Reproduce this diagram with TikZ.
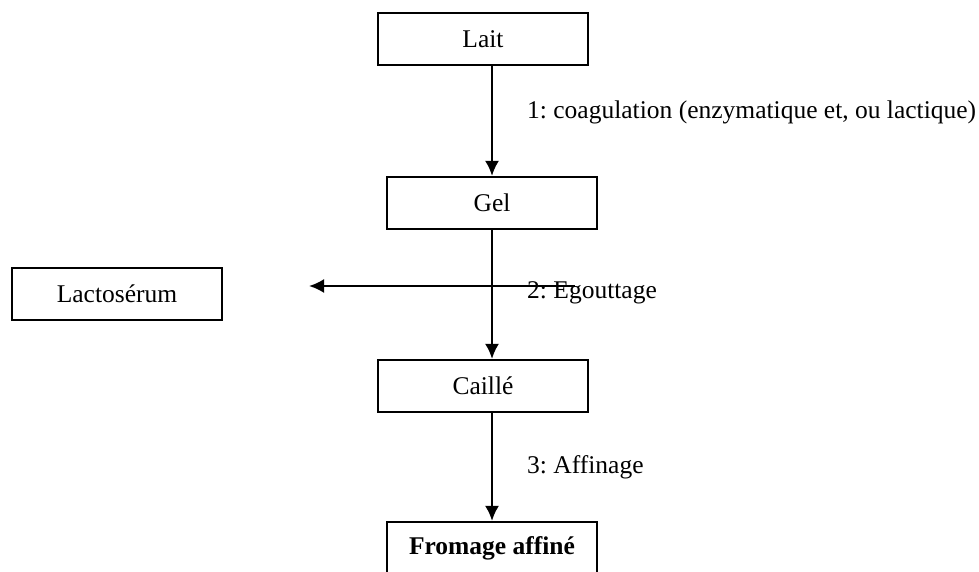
\documentclass[tikz,border=0pt]{standalone}
\usepackage{fontspec}
\setmainfont{Liberation Serif}
\usetikzlibrary{arrows.meta}
\frenchspacing

\begin{document}
\begin{tikzpicture}[
  x = 1pt, y = -1pt,
  every node/.style = {align=center, font=\fontsize{25.5}{30}\selectfont},
  stage/.style = {draw, line width=2.2pt, minimum width=210pt, minimum height=52pt, inner sep=0pt},
  flow/.style = {draw, line width=2.2pt, -{Latex[length=15pt, width=14pt]}},
  steplabel/.style = {anchor=west, inner sep=0pt}
]
\useasboundingbox (0,0) rectangle (979,571);

\node[stage] (lait) at (483,39) {Lait};
\node[stage] (gel) at (492,203) {Gel};
\node[stage] (caille) at (483,386) {Caillé};
\node[stage, font=\fontsize{25.5}{30}\selectfont\bfseries] (fromage) at (492,548) {Fromage affiné};
\node[stage] (lactoserum) at (117,294) {Lactosérum};

\node[steplabel] (coag) at (527,112) {1: coagulation (enzymatique et, ou lactique)};
\node[steplabel] (egouttage) at (527,293) {2: Egouttage};
\node[steplabel] (affinage) at (527,467) {3: Affinage};

\coordinate (egoutstart) at (575,286);
\coordinate (egoutend) at (309,286);

\draw[flow] (lait.south -| gel) -- (gel.north); % coagulation
\draw[flow] (gel.south) -- (caille.north -| gel); % egouttage
\draw[flow] (egoutstart) -- (egoutend); % lactoserum out
\draw[flow] (caille.south -| fromage) -- (fromage.north); % affinage

\end{tikzpicture}
\end{document}
